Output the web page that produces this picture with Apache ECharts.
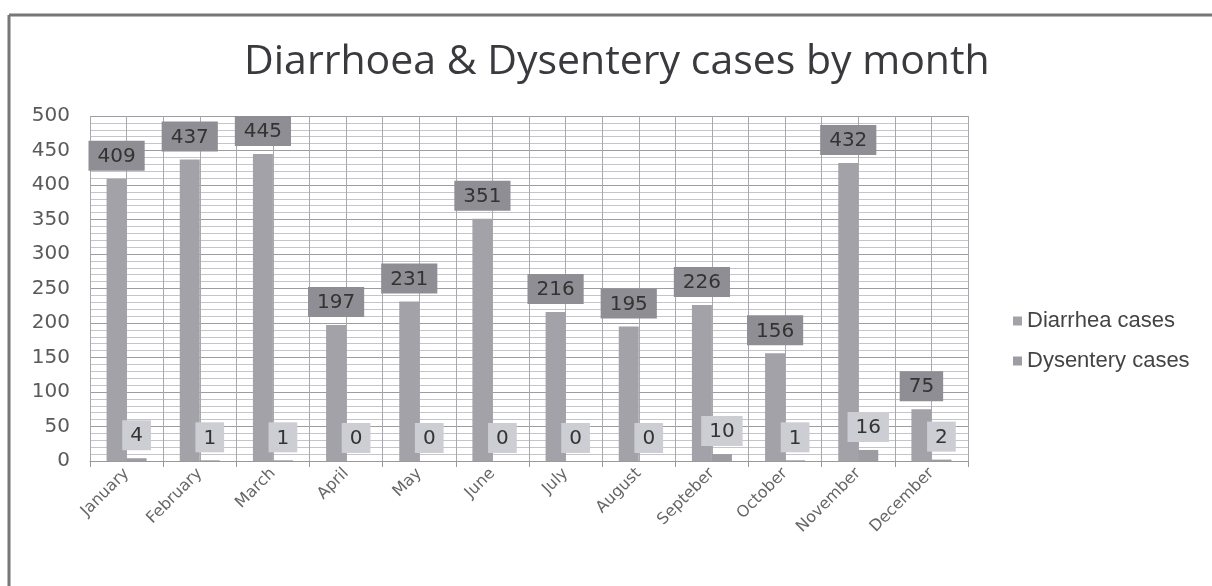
<!DOCTYPE html>
<html><head><meta charset="utf-8">
<script src="https://cdn.jsdelivr.net/npm/echarts@6/dist/echarts.min.js"></script>
<style>html,body{margin:0;padding:0;background:#fff}#c{width:1212px;height:586px}</style>
</head><body><div id="c"></div>
<script>
const months = ['January','February','March','April','May','June','July','August','Septeber','October','November','December'];
const diarrhea = [409,437,445,197,231,351,216,195,226,156,432,75];
const dysentery = [4,1,1,0,0,0,0,0,10,1,16,2];
const yTicks = [0,50,100,150,200,250,300,350,400,450,500];

const chart = echarts.init(document.getElementById('c'));
const FONT = 'DejaVu Sans';
chart.setOption({
  backgroundColor: '#fff',
  animation: false,
  title: {
    text: 'Diarrhoea & Dysentery cases by month',
    left: 244, top: 42,
    textStyle: {fontFamily: 'Open Sans', fontSize: 41, fontWeight: 'normal', color: '#3a3a3e'},
    padding: 0
  },
  legend: {
    orient: 'vertical', left: 1008, top: 305, itemGap: 18,
    itemWidth: 9, itemHeight: 9, icon: 'rect',
    textStyle: {fontFamily: 'Liberation Sans', fontSize: 22, color: '#444'},
    data: ['Diarrhea cases', 'Dysentery cases']
  },
  grid: {left: 90, right: 244, top: 116, bottom: 125},
  xAxis: [{
    type: 'category', data: months,
    axisLine: {lineStyle: {color: '#999'}},
    axisTick: {show: true, interval: 0, length: 6, lineStyle: {color: '#999'}},
    axisLabel: {interval: 0, rotate: 45, fontFamily: FONT, fontSize: 16, color: '#666', margin: 10},
    splitLine: {show: false}
  }, {
    type: 'value', min: 0, max: 12, interval: 0.5, position: 'bottom',
    axisLine: {show: false}, axisTick: {show: false}, axisLabel: {show: false},
    splitLine: {show: true, lineStyle: {color: '#a8a8ae', width: 1}}
  }],
  yAxis: {
    type: 'value', min: 0, max: 500, interval: 50,
    axisLine: {show: false}, axisTick: {show: false},
    axisLabel: {fontFamily: FONT, fontSize: 20, color: '#5a5a5a', margin: 20,
      formatter: v => yTicks.includes(v) ? String(v) : ''},
    splitLine: {show: true, lineStyle: {color: '#9c9ca2', width: 1}},
    minorTick: {show: false, splitNumber: 5},
    minorSplitLine: {show: true, lineStyle: {color: '#c4c4ca', width: 1}}
  },
  series: [{
    name: 'Diarrhea cases', type: 'bar', data: diarrhea, barWidth: 20, barGap: '0%',
    itemStyle: {color: '#a2a2a8'},
    label: {show: true, position: 'top', distance: 8, fontFamily: FONT, fontSize: 20, color: '#333',
      backgroundColor: '#8e8e94', padding: [6, 9, 4, 9]}
  }, {
    name: 'Dysentery cases', type: 'bar', data: dysentery, barWidth: 20,
    itemStyle: {color: '#9c9ca2'},
    label: {show: true, position: 'top', distance: 8, fontFamily: FONT, fontSize: 20, color: '#333',
      backgroundColor: '#cdcdd4', padding: [6, 8, 4, 8]}
  }],
  graphic: [
    {type: 'line', shape: {x1: 9, y1: 15, x2: 1212, y2: 15}, style: {stroke: '#777', lineWidth: 3}},
    {type: 'line', shape: {x1: 9, y1: 15, x2: 9, y2: 586}, style: {stroke: '#777', lineWidth: 3}}
  ]
});
</script></body></html>
